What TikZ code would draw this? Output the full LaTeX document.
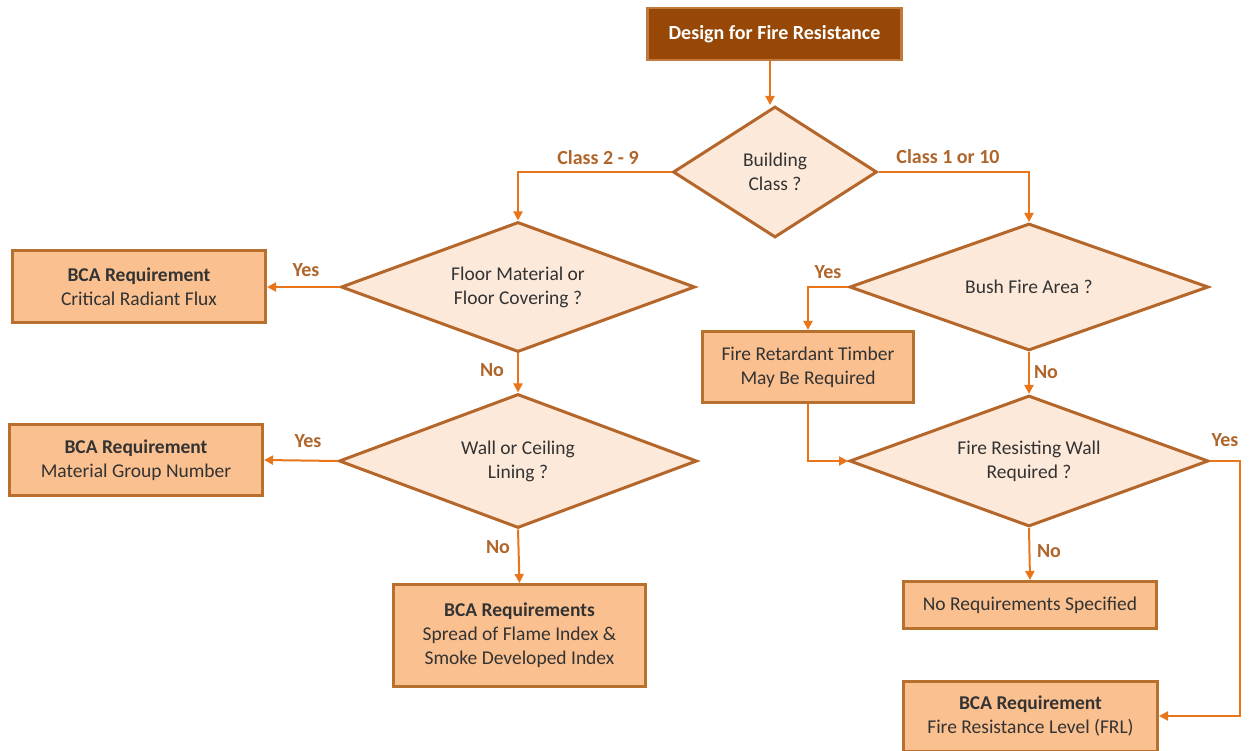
\documentclass[tikz,border=0pt]{standalone}
\usepackage{fontspec}
\setmainfont{Carlito}
\usetikzlibrary{shapes.geometric,arrows.meta}
\definecolor{hdrfill}{HTML}{974806}
\definecolor{hdrline}{HTML}{C07A3E}
\definecolor{boxfill}{HTML}{FAC08F}
\definecolor{boxline}{HTML}{B8702E}
\definecolor{dfill}{HTML}{FDE9D9}
\definecolor{dline}{HTML}{B5662A}
\definecolor{arr}{HTML}{E8751A}
\definecolor{lbl}{HTML}{B0652A}
\definecolor{txt}{HTML}{333333}
\tikzset{
  hdr/.style={rectangle, draw=hdrline, fill=hdrfill, line width=2.5pt, text=white,
    font=\fontsize{20}{24}\selectfont\bfseries, inner sep=0pt},
  reqbox/.style={rectangle, draw=boxline, fill=boxfill, line width=3pt, text=txt,
    font=\fontsize{19.5}{24}\selectfont, align=center, inner sep=0pt},
  decision/.style={diamond, draw=dline, fill=dfill, line width=3pt, text=txt,
    font=\fontsize{19.5}{24}\selectfont, align=center, inner sep=0pt, shape aspect=2.7},
  conn/.style={draw=arr, line width=2pt, -{Triangle[length=9pt,width=9pt]}},
  lab/.style={text=lbl, font=\fontsize{20}{24}\selectfont\bfseries, inner sep=0pt}
}
\begin{document}
\begin{tikzpicture}[x=1pt,y=-1pt]
\useasboundingbox (0,0) rectangle (1251,751);
% nodes
\node[hdr, minimum width=254pt, minimum height=52pt] (start) at (774.5,34) {Design for Fire Resistance};
\node[decision, shape aspect=1.55, minimum width=204pt, minimum height=131pt] (bc) at (775,172) {Building\\Class ?};
\node[decision, minimum width=354pt, minimum height=130pt] (floor) at (518,287) {Floor Material or\\Floor Covering ?};
\node[reqbox, minimum width=253pt, minimum height=72pt] (crf) at (139,287) {\textbf{BCA Requirement}\\Critical Radiant Flux};
\node[decision, minimum width=358pt, minimum height=134pt] (wall) at (518,461) {Wall or Ceiling\\Lining ?};
\node[reqbox, minimum width=253pt, minimum height=71pt] (mgn) at (136,460) {\textbf{BCA Requirement}\\Material Group Number};
\node[reqbox, minimum width=252pt, minimum height=102pt] (sfi) at (519.5,635.5) {\textbf{BCA Requirements}\\Spread of Flame Index \&\\Smoke Developed Index};
\node[decision, minimum width=359pt, minimum height=127pt] (bush) at (1029,287) {Bush Fire Area ?};
\node[reqbox, minimum width=211pt, minimum height=71pt] (frt) at (808,367) {Fire Retardant Timber\\May Be Required};
\node[decision, minimum width=359pt, minimum height=131pt] (frw) at (1029,461) {Fire Resisting Wall\\Required ?};
\node[reqbox, minimum width=253pt, minimum height=47pt] (nrs) at (1030,605) {No Requirements Specified};
\node[reqbox, minimum width=254pt, minimum height=70pt] (frl) at (1030.5,716) {\textbf{BCA Requirement}\\Fire Resistance Level (FRL)};
% connectors
\draw[conn] (start.south -| 770,0) -- (bc.north -| 770,0);
\draw[conn] (bc.west) -| (floor.north);
\draw[conn] (bc.east) -| (bush.north);
\draw[conn] (floor.west) -- (crf.east);
\draw[conn] (floor.south) -- (wall.north);
\draw[conn] (wall.west) -- (mgn.east);
\draw[conn] (wall.south) -- (sfi.north);
\draw[conn] (bush.west) -| (frt.north);
\draw[conn] (frt.south) |- (frw.west);
\draw[conn] (bush.south) -- (frw.north);
\draw[conn] (frw.south) -- (nrs.north);
\coordinate (rt) at (1240,461);
\draw[conn] (frw.east) -- (rt) |- (frl.east);
% labels
\node[lab] (l1) at (598,158) {Class 2 - 9};
\node[lab] (l2) at (948,157) {Class 1 or 10};
\node[lab] (l3) at (306,270) {Yes};
\node[lab] (l4) at (492,370) {No};
\node[lab] (l5) at (308,441) {Yes};
\node[lab] (l6) at (498,547) {No};
\node[lab] (l7) at (828,272) {Yes};
\node[lab] (l8) at (1046,372) {No};
\node[lab] (l9) at (1225,440) {Yes};
\node[lab] (l10) at (1049,551) {No};
\end{tikzpicture}
\end{document}
